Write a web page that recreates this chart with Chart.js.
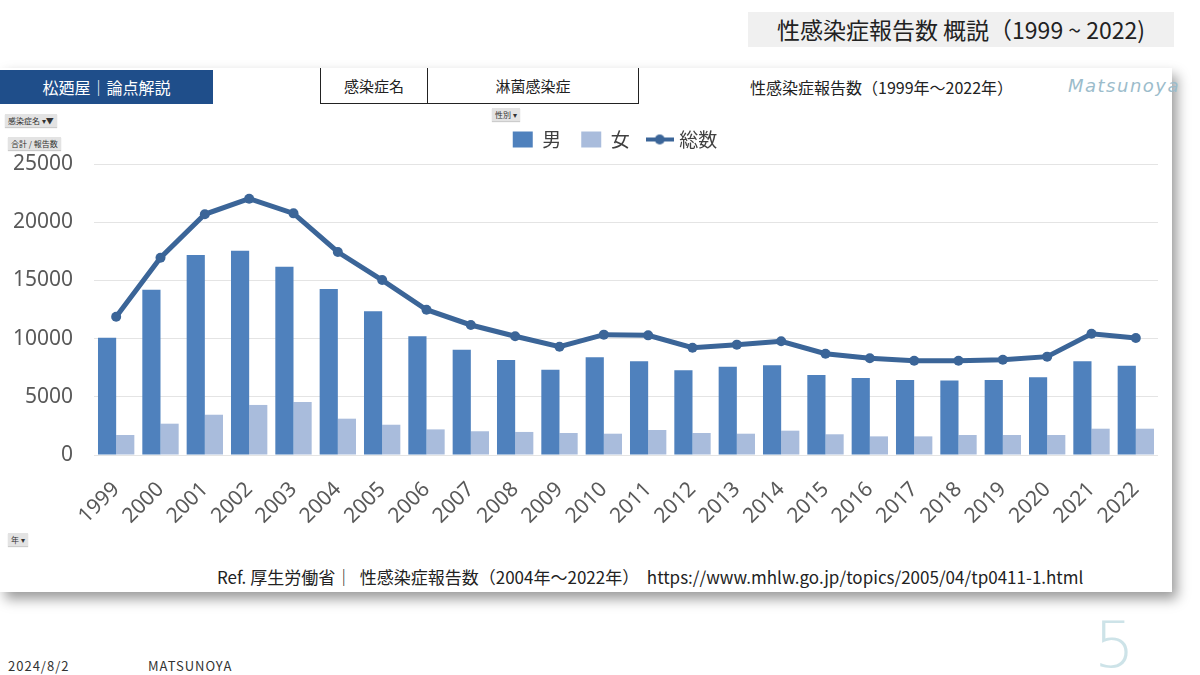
<!DOCTYPE html>
<html lang="ja">
<head>
<meta charset="utf-8">
<title>性感染症報告数 概説（1999 ~ 2022）</title>
<script src="https://cdn.jsdelivr.net/npm/chart.js@4.4.1/dist/chart.umd.min.js"></script>
<style>
  html, body {
    margin: 0; padding: 0; width: 1200px; height: 675px; overflow: hidden;
    background: #fff; font-family: "Noto Sans CJK JP", "Noto Sans", sans-serif; color: #222;
  }
  .page-title {
    position: absolute; left: 748px; top: 12px; width: 426px; height: 35px;
    background: #f0f0f0; font-size: 23px; line-height: 35px; text-align: center;
  }
  .card {
    position: absolute; left: 0; top: 68px; width: 1172px; height: 524px;
    background: #fff; box-shadow: 5px 7px 12px rgba(0, 0, 0, 0.4);
  }
  .brand {
    position: absolute; left: 0; top: 2px; width: 213px; height: 34px;
    background: #1f4e8a; color: #fff; font-size: 16px; line-height: 34px; text-align: center;
  }
  .filter {
    position: absolute; left: 320px; top: 0; width: 317px; height: 35px;
    border: 1.5px solid #222; border-top: none; display: flex; font-size: 15px;
  }
  .filter div { line-height: 35px; text-align: center; }
  .filter .k { width: 106px; border-right: 1.5px solid #222; }
  .filter .v { flex: 1; }
  .subtitle { position: absolute; left: 750px; top: 7px; font-size: 16px; }
  .sign {
    position: absolute; left: 1068px; top: 7px; font-size: 18px; font-style: italic;
    color: #9bbccb; letter-spacing: 1.5px; font-family: "DejaVu Sans", sans-serif; font-weight: 300;
  }
  .btn {
    position: absolute; background: #e3e3e3; font-size: 8px; line-height: 13px;
    padding: 0 3px; color: #333; box-shadow: 0 1px 1px rgba(0,0,0,0.2);
  }
  .ref { position: absolute; left: 217px; top: 496px; font-size: 17px; white-space: pre; }
  .foot { position: absolute; top: 656px; font-size: 13px; color: #333; letter-spacing: 1px; }
  .pageno {
    position: absolute; left: 1094px; top: 608px; font-size: 64px; color: #cde3e8;
    font-family: "DejaVu Sans", sans-serif; font-weight: 200;
  }
  #chartWrap { position: absolute; left: 0; top: 111px; width: 1172px; height: 424px; }
</style>
</head>
<body>
<div class="page-title">性感染症報告数 概説（1999 ~ 2022)</div>
<div class="card">
  <div class="brand">松廼屋｜論点解説</div>
  <div class="filter"><div class="k">感染症名</div><div class="v">淋菌感染症</div></div>
  <div class="subtitle">性感染症報告数（1999年～2022年）</div>
  <div class="sign">Matsunoya</div>
  <div class="btn" style="left:5px; top:46px;">感染症名 ▾▼</div>
  <div class="btn" style="left:8px; top:69px;">合計 / 報告数</div>
  <div class="btn" style="left:492px; top:40px;">性別 ▾</div>
  <div class="btn" style="left:8px; top:465px;">年 ▾</div>
  <div class="ref">Ref. 厚生労働省｜  性感染症報告数（2004年～2022年）  https://www.mhlw.go.jp/topics/2005/04/tp0411-1.html</div>
</div>
<div class="foot" style="left:8px;">2024/8/2</div>
<div class="foot" style="left:148px;">MATSUNOYA</div>
<div class="pageno">5</div>
<div id="chartWrap"><canvas id="chart"></canvas></div>

<script>
// 年ごとの報告数
const years = ['1999', '2000', '2001', '2002', '2003', '2004', '2005', '2006', '2007', '2008', '2009', '2010',
               '2011', '2012', '2013', '2014', '2015', '2016', '2017', '2018', '2019', '2020', '2021', '2022'];
const male = [10080, 14200, 17180, 17550, 16180, 14260, 12340, 10200, 9050, 8160, 7330, 8400,
              8050, 7280, 7590, 7700, 6870, 6620, 6440, 6390, 6440, 6670, 8050, 7670];
const female = [1720, 2690, 3460, 4300, 4550, 3120, 2600, 2200, 2040, 1980, 1890, 1830,
                2150, 1890, 1830, 2090, 1780, 1600, 1600, 1720, 1720, 1720, 2260, 2260];
const total = [11880, 16950, 20680, 22020, 20760, 17440, 15030, 12480, 11170, 10200, 9300, 10340,
               10280, 9220, 9480, 9770, 8700, 8310, 8100, 8100, 8190, 8450, 10420, 10050];
const yTicks = [0, 5000, 10000, 15000, 20000, 25000];

const maleColor = '#4f81bd';
const femaleColor = '#a9bcdc';
const totalColor = '#3b6598';

// 凡例の「総数」用に線＋点のアイコンを作っておく
const lineIcon = document.createElement('canvas');
lineIcon.width = 28;
lineIcon.height = 12;
(function () {
  const c = lineIcon.getContext('2d');
  c.strokeStyle = totalColor;
  c.lineWidth = 4;
  c.beginPath(); c.moveTo(0, 6); c.lineTo(28, 6); c.stroke();
  c.fillStyle = totalColor;
  c.beginPath(); c.arc(14, 6, 5, 0, Math.PI * 2); c.fill();
})();

// 凡例を元の位置（少し右・上）へずらす
const legendShift = {
  id: 'legendShift',
  afterLayout(chart) {
    const lg = chart.legend;
    lg.left += 36; lg.right += 36;
    lg.top -= 5; lg.bottom -= 5;
  }
};

const tickFont = { family: '"Noto Sans", sans-serif', size: 21 };

new Chart(document.getElementById('chart'), {
  data: {
    labels: years,
    datasets: [
      { type: 'bar', label: '男', data: male, backgroundColor: maleColor, order: 1,
        categoryPercentage: 0.82, barPercentage: 1.0 },
      { type: 'bar', label: '女', data: female, backgroundColor: femaleColor, order: 1,
        categoryPercentage: 0.82, barPercentage: 1.0 },
      { type: 'line', label: '総数', data: total, borderColor: totalColor, backgroundColor: totalColor,
        borderWidth: 5, pointRadius: 5, pointBackgroundColor: totalColor, pointBorderWidth: 0,
        tension: 0, order: 0 }
    ]
  },
  options: {
    responsive: true,
    maintainAspectRatio: false,
    animation: false,
    layout: { padding: { left: 0, right: 14, top: 4, bottom: 0 } },
    plugins: {
      tooltip: { enabled: false },
      legend: {
        position: 'top',
        labels: {
          color: '#404040',
          font: { family: '"Noto Sans CJK JP", sans-serif', size: 19 },
          boxWidth: 20,
          boxHeight: 16,
          padding: 20,
          usePointStyle: true,
          pointStyleWidth: 20,
          sort: (a, b) => a.datasetIndex - b.datasetIndex,
          generateLabels(chart) {
            const items = Chart.defaults.plugins.legend.labels.generateLabels(chart);
            items.forEach(it => {
              if (it.datasetIndex === 2) {
                it.pointStyle = lineIcon;
              } else {
                it.pointStyle = 'rect';
                it.lineWidth = 0;
              }
            });
            return items;
          }
        }
      }
    },
    scales: {
      x: {
        grid: { display: false },
        border: { display: false },
        ticks: { color: '#595959', font: tickFont, minRotation: 45, maxRotation: 45, padding: 14 },
        afterFit(scale) { scale.height = 80; }
      },
      y: {
        min: 0,
        max: 25000,
        grid: { color: '#e4e4e4', drawTicks: false },
        border: { display: false },
        afterBuildTicks(scale) { scale.ticks = yTicks.map(v => ({ value: v })); },
        ticks: { color: '#595959', font: tickFont, padding: 21, callback: v => String(v) },
        afterFit(scale) { scale.width = 94; }
      }
    }
  },
  plugins: [legendShift]
});
</script>
</body>
</html>
